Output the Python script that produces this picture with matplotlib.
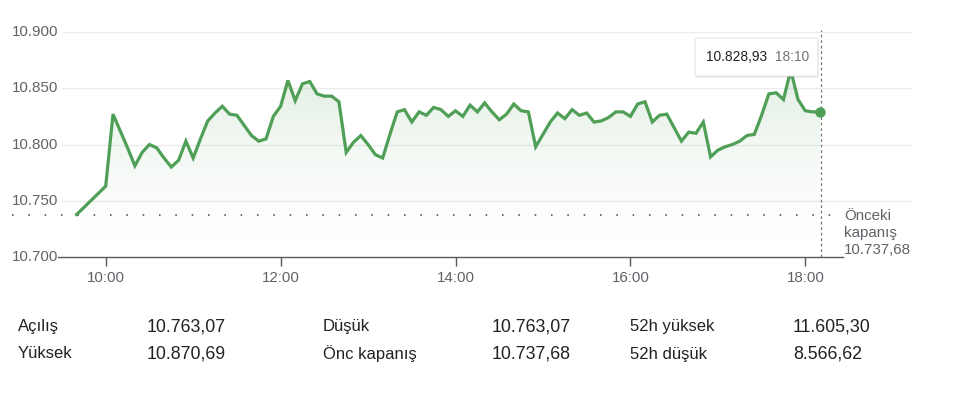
import matplotlib
matplotlib.use("Agg")
import matplotlib.pyplot as plt
import matplotlib.transforms as mtransforms
from matplotlib.patches import FancyBboxPatch
import numpy as np
import pandas as pd

plt.rcParams['font.family'] = ['Liberation Sans', 'DejaVu Sans']

# ---------------- data ----------------
prev_close = 10737.68
first_time = "09:40"
first_value = 10.7377
session_start, session_end = "10:00", "18:10"
values = [
    10.763, 10.827, 10.812, 10.797, 10.781, 10.793, 10.800, 10.797, 10.788, 10.780, 10.786, 10.803,  # 10h
    10.788, 10.805, 10.821, 10.828, 10.834, 10.827, 10.826, 10.817, 10.808, 10.803, 10.805, 10.825,  # 11h
    10.834, 10.857, 10.839, 10.854, 10.856, 10.845, 10.843, 10.843, 10.838, 10.793, 10.802, 10.808,  # 12h
    10.800, 10.791, 10.788, 10.809, 10.829, 10.831, 10.820, 10.829, 10.826, 10.833, 10.831, 10.825,  # 13h
    10.830, 10.825, 10.835, 10.829, 10.837, 10.829, 10.822, 10.827, 10.836, 10.830, 10.829, 10.798,  # 14h
    10.809, 10.820, 10.828, 10.823, 10.831, 10.826, 10.828, 10.820, 10.821, 10.824, 10.829, 10.829,  # 15h
    10.825, 10.836, 10.838, 10.820, 10.826, 10.827, 10.815, 10.803, 10.811, 10.810, 10.820, 10.789,  # 16h
    10.795, 10.798, 10.800, 10.803, 10.808, 10.809, 10.826, 10.845, 10.846, 10.840, 10.866, 10.840,  # 17h
    10.830, 10.829, 10.82893,                                                                        # 18h
]
last_value_text = "10.828,93"
last_time_text = "18:10"
yticks = [10.700, 10.750, 10.800, 10.850, 10.900]
ytick_labels = ["10.700", "10.750", "10.800", "10.850", "10.900"]
xticks = [10, 12, 14, 16, 18]
xtick_labels = ["10:00", "12:00", "14:00", "16:00", "18:00"]
prev_label = ["Önceki", "kapanış", "10.737,68"]
table_labels = [["Açılış", "Yüksek"], ["Düşük", "Önc kapanış"], ["52h yüksek", "52h düşük"]]
table_values = [["10.763,07", "10.870,69"], ["10.763,07", "10.737,68"], ["11.605,30", "8.566,62"]]

# ---------------- prep ----------------
def to_hours(t):
    h, m = t.split(":")
    return int(h) + int(m) / 60.0

session = pd.date_range("2024-01-01 " + session_start, "2024-01-01 " + session_end, freq="5min")
x = np.array([to_hours(first_time)] + [t.hour + t.minute / 60.0 for t in session])
y = np.array([first_value] + values)
pc = prev_close / 1000.0

GREEN = "#4f9f57"
GRID = "#ececec"
AXIS = "#5a5a5a"
LABEL = "#5f6368"
TEXT = "#222222"
AX_FS = 10.9

W, H = 960, 393
fig = plt.figure(figsize=(W / 100, H / 100), dpi=100)
ax = fig.add_axes([62 / W, 1 - 257 / H, 850 / W, 227 / H])
ax.set_xlim(9.5, 19.22)
ax.set_ylim(10.700, 10.9018)
for s in ax.spines.values():
    s.set_visible(False)

# grid
for v in yticks[1:]:
    ax.axhline(v, color=GRID, lw=1, zorder=0)

# gradient fill under line
poly = ax.fill_between(x, y, 10.700, facecolor="none", edgecolor="none")
grad = np.linspace(0.0, 1.0, 256)
rgb = np.array(matplotlib.colors.to_rgb(GREEN))
img = np.zeros((256, 1, 4))
img[..., :3] = rgb
img[..., 3] = (0.18 * grad ** 1.6).reshape(-1, 1)
im = ax.imshow(img, extent=[x.min(), x.max(), 10.700, 10.870], origin="lower",
               aspect="auto", zorder=1, interpolation="bilinear")
im.set_clip_path(poly.get_paths()[0], transform=ax.transData)
ax.set_xlim(9.5, 19.22)
ax.set_ylim(10.700, 10.9018)

# main line
ax.plot(x, y, color=GREEN, lw=2.3, solid_joinstyle="miter", zorder=3)
ax.plot(x[-1], y[-1], "o", color=GREEN, ms=7.5, zorder=4, mec="none")

# previous close dotted line
blend = mtransforms.blended_transform_factory(ax.transAxes, ax.transData)
ax.plot([-50 / 850, (835 - 62) / 850], [pc, pc], transform=blend, clip_on=False,
        color="#6a6a6a", lw=1.4, linestyle=(0, (0.8, 7.6)), zorder=2)

# vertical dashed line at last point
ax.plot([x[-1] + 0.01, x[-1] + 0.01], [10.700, 10.9018], color="#777777", lw=0.9,
        linestyle=(0, (2.2, 2.2)), zorder=2, clip_on=False)

# bottom axis line
ax.plot([-4 / 850, (843 - 62) / 850], [10.700, 10.700], transform=blend, clip_on=False,
        color=AXIS, lw=1.0, zorder=3)

# x ticks
ax.set_xticks(xticks)
ax.set_xticklabels(xtick_labels, fontsize=AX_FS, color=LABEL)
ax.tick_params(axis="x", length=6.5, width=1, color=AXIS, pad=3.5)
ax.set_yticks([])

# y labels
for v, lab in zip(yticks, ytick_labels):
    ax.text(-50 / 850, v, lab, transform=blend, ha="left", va="center",
            fontsize=AX_FS, color=LABEL)

# previous close label
for i, s in enumerate(prev_label):
    fig.text(844 / W, 1 - (216 + 17 * i) / H, s, ha="left", va="center",
             fontsize=AX_FS, color=LABEL)

# tooltip
shadow = FancyBboxPatch((696 / W, 1 - 78 / H), 123 / W, 38 / H,
                        boxstyle="round,pad=0,rounding_size=0.003",
                        transform=fig.transFigure, facecolor="#000000", alpha=0.07,
                        edgecolor="none", zorder=5)
fig.patches.append(shadow)
box = FancyBboxPatch((695 / W, 1 - 76 / H), 123 / W, 38 / H,
                     boxstyle="round,pad=0,rounding_size=0.003",
                     transform=fig.transFigure, facecolor="white",
                     edgecolor="#e4e4e4", lw=0.8, zorder=6)
fig.patches.append(box)
fig.text(706 / W, 1 - 57 / H, last_value_text, ha="left", va="center", fontsize=9.9,
         color="#202124", zorder=7)
fig.text(775 / W, 1 - 57 / H, last_time_text, ha="left", va="center", fontsize=9.9,
         color="#70757a", zorder=7)

# bottom table
label_x = [18, 323, 630]
value_x = [147, 492, 793]
row_y = [327, 354]
for c in range(3):
    for r in range(2):
        fig.text(label_x[c] / W, 1 - row_y[r] / H, table_labels[c][r], ha="left",
                 va="center", fontsize=12, color=TEXT)
        fig.text(value_x[c] / W, 1 - row_y[r] / H, table_values[c][r], ha="left",
                 va="center", fontsize=12.8, color=TEXT)

fig.savefig("out.png", dpi=100)
